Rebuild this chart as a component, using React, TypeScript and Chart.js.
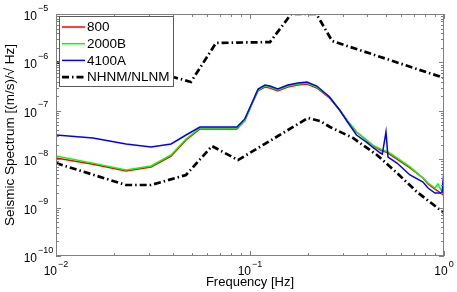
import { useEffect, useRef } from 'react';
import { Chart, registerables } from 'chart.js';
Chart.register(...registerables);

// ---- data ----
const freqs = [0.01, 0.01551, 0.02296, 0.0309, 0.0392, 0.0468, 0.0552, 0.0856, 0.094, 0.1023, 0.11, 0.1194, 0.1268, 0.139, 0.1566, 0.1764, 0.1966, 0.2211, 0.2571, 0.2897, 0.3183, 0.354, 0.3983, 0.4274, 0.4698, 0.4809, 0.5023, 0.5144, 0.5725, 0.6678, 0.7795, 0.827, 0.8986, 0.931, 0.9766, 1.0];

const s800 = [1.06e-8, 7.9e-9, 5.7e-9, 6.91e-9, 1.16e-8, 2.49e-8, 4.2e-8, 4.2e-8, 6.2e-8, 1.39e-7, 2.57e-7, 3.1e-7, 2.96e-7, 2.57e-7, 3.1e-7, 3.41e-7, 3.58e-7, 2.96e-7, 1.84e-7, 1.04e-7, 6.16e-8, 3.65e-8, 2.49e-8, 1.96e-8, 1.55e-8, 1.48e-8, 1.41e-8, 1.34e-8, 1.0e-8, 6.6e-9, 4.09e-9, 3.07e-9, 2.42e-9, 2.2e-9, 1.9e-9, 1.82e-9];

const s2000B = [1.16e-8, 8.3e-9, 5.98e-9, 7.24e-9, 1.22e-8, 2.61e-8, 4.41e-8, 4.41e-8, 6.2e-8, 1.39e-7, 2.69e-7, 3.25e-7, 3.1e-7, 2.69e-7, 3.25e-7, 3.58e-7, 3.75e-7, 3.1e-7, 1.93e-7, 1.04e-7, 6.16e-8, 3.65e-8, 2.49e-8, 1.96e-8, 1.63e-8, 1.55e-8, 1.48e-8, 1.41e-8, 1.06e-8, 6.91e-9, 4.09e-9, 3.22e-9, 2.54e-9, 3.07e-9, 2.1e-9, 2.1e-9];

const s4100A = [3.16e-8, 2.74e-8, 2.06e-8, 1.79e-8, 2.06e-8, 3.16e-8, 4.62e-8, 4.62e-8, 6.8e-8, 1.45e-7, 2.82e-7, 3.41e-7, 3.25e-7, 2.82e-7, 3.41e-7, 3.75e-7, 3.94e-7, 3.25e-7, 1.93e-7, 1.04e-7, 5.87e-8, 3.16e-8, 2.26e-8, 1.79e-8, 1.34e-8, 1.28e-8, 3.65e-8, 1.11e-8, 8.34e-9, 4.72e-9, 3.38e-9, 2.54e-9, 2.0e-9, 2.0e-9, 2.0e-9, 5.98e-9];

const nhnmFreqs = [0.01, 0.0401, 0.0496, 0.0668, 0.1268, 0.163, 0.22, 0.265, 1.0];
const nhnmVals = [1.0e-6, 5.0e-7, 3.94e-7, 2.52e-6, 2.63e-6, 1.0e-5, 1.0e-5, 2.77e-6, 4.77e-7];

const nlnmFreqs = [0.01, 0.02296, 0.0309, 0.0468, 0.0637, 0.0867, 0.199, 0.2296, 0.2585, 0.3396, 0.4515, 0.5725, 0.726, 1.0];
const nlnmVals = [8.3e-9, 2.93e-9, 2.93e-9, 4.72e-9, 1.87e-8, 9.6e-9, 7.1e-8, 6.15e-8, 4.62e-8, 2.74e-8, 1.22e-8, 5.19e-9, 2.1e-9, 7.8e-10];

const xTicks = [0.01, 0.1, 1];
const yTicks = [1e-10, 1e-9, 1e-8, 1e-7, 1e-6, 1e-5];
const legendNames = ['800', '2000B', '4100A', 'NHNM/NLNM'];
const xTitle = 'Frequency [Hz]';
const yTitle = 'Seismic Spectrum [(m/s)/\u221A Hz]';

const FONT = '"Liberation Sans", Arial, Helvetica, sans-serif';
const expOf = (v: number) => String(Math.round(Math.log10(v))).replace('-', '\u2212');

const pts = (xs: number[], ys: number[]) => xs.map((x, i) => ({ x, y: ys[i] }));

const framePlugin = {
  id: 'frameTicks',
  afterDraw(chart: any) {
    const { ctx, chartArea: a, scales } = chart;
    const xs = scales.x, ys = scales.y;
    ctx.save();
    ctx.strokeStyle = '#808080';
    ctx.lineWidth = 1;
    ctx.setLineDash([]);
    const seg = (x1: number, y1: number, x2: number, y2: number) => {
      ctx.beginPath(); ctx.moveTo(x1, y1); ctx.lineTo(x2, y2); ctx.stroke();
    };
    for (let d = -2; d <= 0; d++) {
      for (let m = 1; m <= 9; m++) {
        const v = m * Math.pow(10, d);
        if (v > 1.0000001) continue;
        const len = m === 1 ? 5 : 3;
        const p = Math.round(xs.getPixelForValue(v)) + 0.5;
        seg(p, a.bottom, p, a.bottom - len);
        seg(p, a.top, p, a.top + len);
      }
    }
    for (let d = -10; d <= -5; d++) {
      for (let m = 1; m <= 9; m++) {
        const v = m * Math.pow(10, d);
        if (v > 1.0000001e-5) continue;
        const len = m === 1 ? 5 : 3;
        const p = Math.round(ys.getPixelForValue(v)) + 0.5;
        seg(a.left, p, a.left + len, p);
        seg(a.right, p, a.right - len, p);
      }
    }
    ctx.strokeRect(a.left + 0.5, a.top + 0.5, a.right - a.left - 1, a.bottom - a.top - 1);

    // tick labels: 10 with superscript exponent
    ctx.fillStyle = '#000';
    ctx.textBaseline = 'alphabetic';
    const baseFont = '12px ' + FONT;
    const expFont = '9px ' + FONT;
    xTicks.forEach((v) => {
      const px = xs.getPixelForValue(v);
      const e = expOf(v);
      ctx.font = baseFont; const w1 = ctx.measureText('10').width;
      ctx.font = expFont; const w2 = ctx.measureText(e).width;
      const start = px - (w1 + 1 + w2) / 2;
      ctx.textAlign = 'left';
      ctx.font = baseFont; ctx.fillText('10', start, a.bottom + 19);
      ctx.font = expFont; ctx.fillText(e, start + w1 + 1, a.bottom + 11);
    });
    yTicks.forEach((v) => {
      const py = ys.getPixelForValue(v);
      const e = expOf(v);
      ctx.textAlign = 'right';
      ctx.font = baseFont; ctx.fillText('10', a.left - 19, py + 6);
      ctx.textAlign = 'left';
      ctx.font = expFont; ctx.fillText(e, a.left - 18, py - 3.5);
    });

    // legend box
    const bx = a.left + 3, by = a.top + 2, bw = 114, bh = 70;
    ctx.fillStyle = '#ffffff';
    ctx.fillRect(bx, by, bw, bh);
    ctx.strokeStyle = '#5a5a5a';
    ctx.lineWidth = 1;
    ctx.strokeRect(bx + 0.5, by + 0.5, bw, bh);
    ctx.font = '13.5px ' + FONT;
    ctx.textBaseline = 'middle';
    ctx.textAlign = 'left';
    legendNames.forEach((name, i) => {
      const ds = chart.data.datasets[i];
      const y = by + 11 + i * 16.7;
      ctx.strokeStyle = ds.borderColor;
      ctx.lineWidth = ds.borderWidth;
      ctx.setLineDash(ds.borderDash || []);
      seg(bx + 3, y, bx + 26, y);
      ctx.setLineDash([]);
      ctx.fillStyle = '#000';
      ctx.fillText(name, bx + 28, y + 0.5);
    });
    ctx.restore();
  },
};

export default function App() {
  const ref = useRef<HTMLCanvasElement>(null);
  useEffect(() => {
    document.body.style.margin = '0';
    const dash = [7, 3, 1.5, 3];
    const chart = new Chart(ref.current as HTMLCanvasElement, {
      type: 'line',
      data: {
        datasets: [
          { label: legendNames[0], data: pts(freqs, s800), borderColor: '#ff0000', borderWidth: 1.5, order: 3 },
          { label: legendNames[1], data: pts(freqs, s2000B), borderColor: '#00ff00', borderWidth: 1.5, order: 2 },
          { label: legendNames[2], data: pts(freqs, s4100A), borderColor: '#0000ff', borderWidth: 1.5, order: 1 },
          { label: legendNames[3], data: pts(nhnmFreqs, nhnmVals), borderColor: '#000000', borderWidth: 2.7, borderDash: dash, order: 0 },
          { label: 'NLNM', data: pts(nlnmFreqs, nlnmVals), borderColor: '#000000', borderWidth: 2.7, borderDash: dash, order: 0 },
        ].map((d) => ({ ...d, pointRadius: 0, tension: 0, fill: false, clip: 0 })) as any,
      },
      options: {
        animation: false,
        responsive: true,
        maintainAspectRatio: false,
        layout: { padding: { left: 0, right: 13, top: 14, bottom: 0 } },
        plugins: { legend: { display: false }, tooltip: { enabled: false } },
        scales: {
          x: {
            type: 'logarithmic',
            min: 0.01,
            max: 1,
            grid: { display: false },
            border: { display: false },
            afterBuildTicks: (s: any) => { s.ticks = xTicks.map((v) => ({ value: v })); },
            afterFit: (s: any) => { s.height = 36; },
            ticks: { display: false },
            title: { display: true, text: xTitle, color: '#000', font: { family: FONT, size: 13 }, padding: { top: 0, bottom: 2 } },
          },
          y: {
            type: 'logarithmic',
            min: 1e-10,
            max: 1e-5,
            grid: { display: false },
            border: { display: false },
            afterBuildTicks: (s: any) => { s.ticks = yTicks.map((v) => ({ value: v })); },
            afterFit: (s: any) => { s.width = 56; },
            ticks: { display: false },
            title: { display: true, text: yTitle, color: '#000', font: { family: FONT, size: 13.5 }, padding: { top: 2, bottom: 0 } },
          },
        },
      } as any,
      plugins: [framePlugin],
    });
    return () => chart.destroy();
  }, []);
  return (
    <div style={{ position: 'relative', width: 457, height: 292 }}>
      <canvas ref={ref} />
    </div>
  );
}
